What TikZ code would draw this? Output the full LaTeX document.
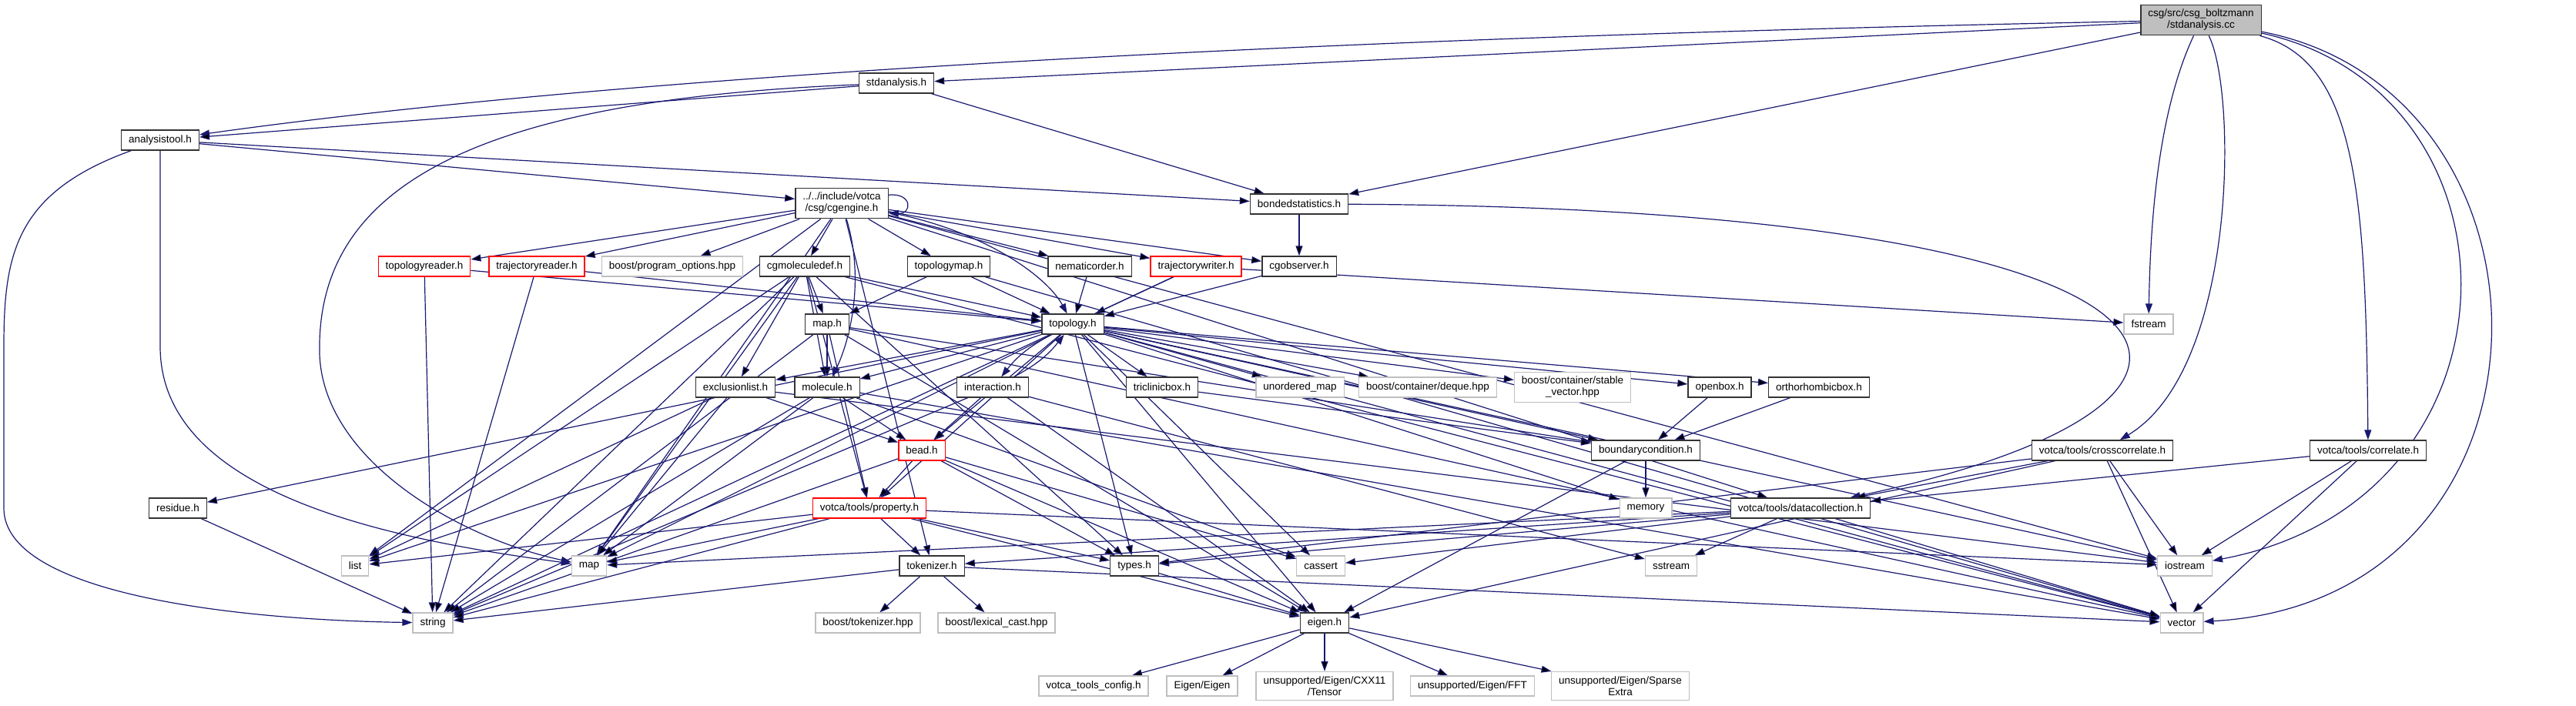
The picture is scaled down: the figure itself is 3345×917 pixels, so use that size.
\documentclass[tikz,border=0pt]{standalone}
\usepackage{fontspec}
\setmainfont{Liberation Sans}
\usepackage{tikz}
\usetikzlibrary{arrows.meta,backgrounds}
\definecolor{depblue}{RGB}{25,25,112}
\definecolor{sysgray}{RGB}{191,191,191}
\definecolor{cutred}{RGB}{255,0,0}

\begin{document}
\begin{tikzpicture}[x=1pt, y=-1pt,
  box/.style={
    draw=black!80, line width=1.3pt, fill=white, inner xsep=9.5pt, inner ysep=6pt,
    minimum height=26pt, align=center, font=\fontsize{13.5}{15}\selectfont
  },
  sysbox/.style={box, draw=sysgray},
  cutbox/.style={box, draw=cutred},
  rootbox/.style={box, fill=sysgray},
  arrow/.style={-{Triangle[length=13pt,width=9pt]}, line width=1.2pt, draw=depblue}
]
\useasboundingbox (0,0) rectangle (3345,917);

% headers of the project
\node[rootbox] (root) at (2858,26) {csg/src/csg\_boltzmann\\/stdanalysis.cc};
\node[box] (stdanah) at (1164,108) {stdanalysis.h};
\node[box] (analysis) at (208,182) {analysistool.h};
\node[box] (cgengine) at (1093,264) {../../include/votca\\/csg/cgengine.h};
\node[box] (bonded) at (1687,265) {bondedstatistics.h};
\node[cutbox] (topreader) at (551,346) {topologyreader.h};
\node[cutbox] (trajreader) at (697,346) {trajectoryreader.h};
\node[sysbox] (progopts) at (873,346) {boost/program\_options.hpp};
\node[box] (cgmoldef) at (1045,346) {cgmoleculedef.h};
\node[box] (topomap) at (1232,346) {topologymap.h};
\node[box] (nematic) at (1415,346) {nematicorder.h};
\node[cutbox] (trajwriter) at (1553,346) {trajectorywriter.h};
\node[box] (cgobs) at (1687,346) {cgobserver.h};
\node[sysbox] (fstream) at (2790,421) {fstream};
\node[box] (cgmap) at (1074,421) {map.h};
\node[box] (topology) at (1393,421) {topology.h};
\node[box] (exclusion) at (955,503) {exclusionlist.h};
\node[box] (molecule) at (1074,503) {molecule.h};
\node[box] (interaction) at (1289,503) {interaction.h};
\node[box] (triclinic) at (1509,503) {triclinicbox.h};
\node[sysbox] (unordmap) at (1688,503) {unordered\_map};
\node[sysbox] (deque) at (1854,503) {boost/container/deque.hpp};
\node[sysbox] (stablevec) at (2042,503) {boost/container/stable\\\_vector.hpp};
\node[box] (openbox) at (2233,503) {openbox.h};
\node[box] (orthobox) at (2362,503) {orthorhombicbox.h};
\node[cutbox] (bead) at (1197,585) {bead.h};
\node[box] (boundary) at (2137,585) {boundarycondition.h};
\node[box] (crosscorr) at (2730,585) {votca/tools/crosscorrelate.h};
\node[box] (correlate) at (3075,585) {votca/tools/correlate.h};
\node[box] (residue) at (231,660) {residue.h};
\node[cutbox] (property) at (1129,660) {votca/tools/property.h};
\node[sysbox] (memory) at (2137,660) {memory};
\node[box] (datacoll) at (2338,660) {votca/tools/datacollection.h};
\node[sysbox] (list) at (461,735) {list};
\node[sysbox] (stdmap) at (765,735) {map};
\node[box] (tokenizer) at (1210,735) {tokenizer.h};
\node[box] (types) at (1473,735) {types.h};
\node[sysbox] (cassert) at (1715,735) {cassert};
\node[sysbox] (sstream) at (2170,735) {sstream};
\node[sysbox] (iostream) at (2837,735) {iostream};
\node[sysbox] (string) at (562,809) {string};
\node[sysbox] (boosttok) at (1127,809) {boost/tokenizer.hpp};
\node[sysbox] (lexcast) at (1294,809) {boost/lexical\_cast.hpp};
\node[box] (eigen) at (1720,809) {eigen.h};
\node[sysbox] (vector) at (2833,809) {vector};
\node[sysbox] (toolscfg) at (1420,891) {votca\_tools\_config.h};
\node[sysbox] (eigeneigen) at (1561,891) {Eigen/Eigen};
\node[sysbox] (tensor) at (1720,891) {unsupported/Eigen/CXX11\\/Tensor};
\node[sysbox] (fft) at (1912,891) {unsupported/Eigen/FFT};
\node[sysbox] (sparse) at (2104,891) {unsupported/Eigen/Sparse\\Extra};

\begin{pgfonlayer}{background}
% the source file
\draw[arrow] (root) edge (stdanah) edge (bonded);
\draw[arrow] (root) .. controls (1900,45) and (900,85) .. (analysis);
\draw[arrow] (root) .. controls (2800,150) and (2792,300) .. (fstream);
\draw[arrow] (root) .. controls (2905,120) and (2905,480) .. (crosscorr);
\draw[arrow] (root) .. controls (3060,80) and (3072,250) .. (correlate);
\draw[arrow] (root) .. controls (3290,120) and (3290,650) .. (iostream);
\draw[arrow] (root) .. controls (3345,120) and (3345,780) .. (vector);
% stdanalysis.h and analysistool.h
\draw[arrow] (stdanah) edge (analysis) edge (bonded);
\draw[arrow] (stdanah) .. controls (600,130) and (410,250) .. (415,460) .. controls (420,600) and (600,700) .. (stdmap);
\draw[arrow] (analysis) edge (cgengine) edge (bonded);
\draw[arrow] (analysis) .. controls (20,250) and (5,330) .. (5,450) -- (5,660) .. controls (5,770) and (300,805) .. (string);
\draw[arrow] (analysis) -- (208,450) .. controls (208,640) and (500,700) .. (stdmap);
\draw[arrow] (bonded) edge (cgobs);
\draw[arrow] (bonded) .. controls (2900,270) and (3000,520) .. (datacoll);
% cgengine.h
\draw[arrow] (cgengine.10) .. controls (1185,250) and (1185,278) .. (cgengine.-12);
\draw[arrow] (cgengine) edge (progopts) edge (cgmoldef) edge (topomap) edge (nematic) edge (trajwriter) edge (cgobs) edge (topreader) edge (trajreader) edge (list) edge (stdmap) edge (tokenizer) edge (datacoll) edge (iostream);
\draw[arrow] (cgengine) .. controls (1280,300) and (1360,360) .. (topology);
\draw[arrow] (cgengine) .. controls (1125,370) and (1100,450) .. (molecule);
% second row
\draw[arrow] (cgmoldef) edge (exclusion) edge (cgmap) edge (molecule) edge (topology) edge (list) edge (stdmap) edge (string) edge (property) edge (types) edge (vector);
\draw[arrow] (topomap) edge (cgmap) edge (topology) edge (vector);
\draw[arrow] (nematic) edge (topology);
\draw[arrow] (trajwriter) edge (topology) edge (string) edge (fstream);
\draw[arrow] (cgobs) edge (topology);
\draw[arrow] (topreader) edge (topology) edge (string);
\draw[arrow] (trajreader) edge (topology) edge (string);
% map.h and topology.h
\draw[arrow] (cgmap) edge (molecule) edge (boundary) edge (property) edge (eigen) edge (vector) edge (string);
\draw[arrow] (topology) edge (exclusion) edge (molecule) edge (triclinic) edge (unordmap) edge (deque) edge (stablevec) edge (openbox) edge (orthobox) edge (boundary) edge (bead) edge (residue) edge (list) edge (stdmap) edge (cassert) edge (memory) edge (types) edge (vector) edge (property) edge (iostream) edge (eigen);
\draw[arrow] (topology) to[bend right=12] (interaction);
\draw[arrow] (interaction) to[bend right=12] (topology);
% fourth row
\draw[arrow] (interaction) edge (bead) edge (string) edge (sstream) edge (eigen);
\draw[arrow] (exclusion) edge (bead) edge (list) edge (stdmap) edge (iostream);
\draw[arrow] (molecule) edge (bead) edge (stdmap) edge (string) edge (cassert) edge (vector);
\draw[arrow] (triclinic) edge (boundary);
\draw[arrow] (openbox) edge (boundary);
\draw[arrow] (orthobox) edge (boundary);
\draw[arrow] (residue) edge (string);
\draw[arrow] (boundary) edge (memory) edge (eigen);
% votca tools
\draw[arrow] (bead) edge (property) edge (string) edge (types) edge (cassert) edge (eigen);
\draw[arrow] (property) edge (list) edge (stdmap) edge (string) edge (tokenizer) edge (types) edge (eigen) edge (iostream);
\draw[arrow] (tokenizer) edge (boosttok) edge (lexcast) edge (string) edge (vector);
\draw[arrow] (types) edge (eigen);
\draw[arrow] (eigen) edge (toolscfg) edge (eigeneigen) edge (tensor) edge (fft) edge (sparse);
\draw[arrow] (datacoll) edge (tokenizer) edge (types) edge (stdmap) edge (cassert) edge (sstream) edge (vector);
\draw[arrow] (crosscorr) edge (datacoll) edge (types) edge (eigen) edge (iostream) edge (vector);
\draw[arrow] (correlate) edge (datacoll) edge (iostream) edge (vector);
\end{pgfonlayer}
\end{tikzpicture}
\end{document}
